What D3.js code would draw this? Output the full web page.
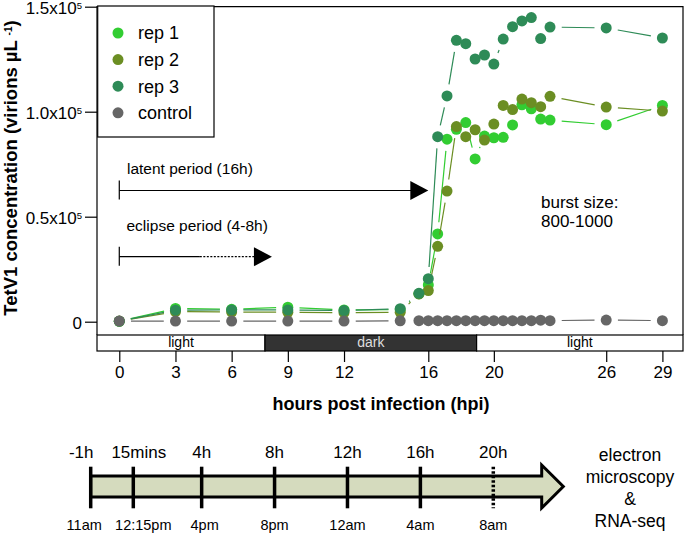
<!DOCTYPE html>
<html><head><meta charset="utf-8">
<script src="https://cdn.jsdelivr.net/npm/d3@7"></script>
<style>
body{margin:0;background:#fff}
svg{display:block}
text{font-family:"Liberation Sans",Arial,Helvetica,sans-serif}
</style>
</head><body><svg id="c" width="685" height="533"></svg>
<script>
// ---------------- data ----------------
const hours = [0,3,6,9,12,15,16,16.5,17,17.5,18,18.5,19,19.5,20,20.5,21,21.5,22,22.5,23,26,29];
const rep1 = [200,6300,5900,6900,5600,5700,13300,17500,41800,86900,91600,94800,77500,88400,87600,87800,93700,103300,101400,96500,96000,93800,103000];
const rep2 = [300,4800,4600,4500,4300,4500,13200,14800,35900,62200,92900,88100,91400,86500,94100,103000,101000,106000,104300,102400,107300,102200,100300];
const rep3 = [250,5500,5600,5600,5300,6200,13500,20500,88100,107500,134000,132400,125100,127000,122700,134600,140500,143200,144800,134800,140300,139900,135100];
const control = [300,300,300,300,300,400,500,500,500,500,500,500,500,500,500,500,500,500,500,700,500,800,500];
const seriesNames = ["rep 1","rep 2","rep 3","control"];
const seriesValues = [rep1, rep2, rep3, control];
const seriesColors = ["#32CD32","#6B8E23","#2E8B57","#666666"];

const yTickValues = [0,50000,100000,150000];
const xTickHours = [0,3,6,9,12,16.5,20,26,29];
const xTickLabels = ["0","3","6","9","12","16","20","26","29"];
const periodLabels = ["light","dark","light"];
const periodBounds = [-1.19,7.78,19.08,30.1];

const timelineHours = [-1,0.25,4,8,12,16,20];
const timelineLabels = ["-1h","15mins","4h","8h","12h","16h","20h"];
const clockLabels = ["11am","12:15pm","4pm","8pm","12am","4am","8am"];
const endLabels = ["electron","microscopy","&","RNA-seq"];

// ---------------- layout ----------------
const svg = d3.select("#c");
const L = 97, R = 683, T = 6.7, B = 335, barB = 351;
const x = d3.scaleLinear().domain([periodBounds[0], periodBounds[periodBounds.length-1]]).range([L, R]);
const y = d3.scaleLinear().domain([0,150000]).range([321.7, T]);

// frame
svg.append("path").attr("d",`M${L},${B}V${T}H${R}V${B}`).attr("fill","none").attr("stroke","#000").attr("stroke-width",1.2);

// light / dark bar
const periods = periodLabels.map((l,i)=>({label:l,start:periodBounds[i],end:periodBounds[i+1]}));
const pg = svg.append("g");
pg.selectAll("rect").data(periods).join("rect")
  .attr("x",d=>x(d.start)).attr("y",B).attr("width",d=>x(d.end)-x(d.start)).attr("height",barB-B)
  .attr("fill",d=>d.label==="dark"?"#333333":"#ffffff").attr("stroke","#000").attr("stroke-width",1.2);
pg.selectAll("text").data(periods).join("text")
  .attr("x",d=>(x(d.start)+x(d.end))/2).attr("y",346.5).attr("text-anchor","middle")
  .attr("font-size",14).attr("fill",d=>d.label==="dark"?"#dddddd":"#000").text(d=>d.label);

// x axis
const xa = svg.append("g").attr("transform",`translate(0,${barB})`)
  .call(d3.axisBottom(x).tickValues(xTickHours).tickFormat((d,i)=>xTickLabels[i]).tickSize(11).tickPadding(4));
xa.select(".domain").remove();
xa.selectAll("line").attr("stroke","#000").attr("stroke-width",1.2);
xa.selectAll("text").attr("font-size",17).attr("fill","#000").style("font-family",'"Liberation Sans",Arial,sans-serif');

// y axis
const ya = svg.append("g").attr("transform",`translate(${L},0)`)
  .call(d3.axisLeft(y).tickValues(yTickValues).tickSize(12).tickPadding(3));
ya.select(".domain").remove();
ya.selectAll("line").attr("stroke","#000").attr("stroke-width",1.2);
ya.selectAll("text").attr("font-size",17).attr("fill","#000").attr("dy","0.38em")
  .style("font-family",'"Liberation Sans",Arial,sans-serif')
  .each(function(d){
    const t = d3.select(this); t.text("");
    if(d===0){ t.text("0"); return; }
    t.append("tspan").text((d/1e5).toFixed(1)+"x10");
    t.append("tspan").attr("font-size",9.5).attr("dy",-4.5).text("5");
  });

// axis titles
svg.append("text").attr("x",381).attr("y",410).attr("text-anchor","middle")
  .attr("font-size",18).attr("font-weight","bold").text("hours post infection (hpi)");
const yt = svg.append("text").attr("transform","translate(17,168) rotate(-90)").attr("text-anchor","middle")
  .attr("font-size",18.5).attr("font-weight","bold");
yt.append("tspan").text("TetV1 concentration (virions µL ");
yt.append("tspan").attr("font-size",10).attr("dy",-5).text("-1");
yt.append("tspan").attr("dy",5).text(")");

// series (type "b": points with gapped segments)
const gap = 11.7, rad = 5.5;
seriesValues.forEach((vals,si)=>{
  const pts = hours.map((h,i)=>[x(h), y(vals[i])]);
  const g = svg.append("g");
  const segs = [];
  for(let i=0;i<pts.length-1;i++){
    const [x1,y1]=pts[i],[x2,y2]=pts[i+1];
    const dx=x2-x1, dy=y2-y1, d=Math.hypot(dx,dy);
    if(d>2*gap){ const ux=dx/d, uy=dy/d; segs.push([x1+ux*gap,y1+uy*gap,x2-ux*gap,y2-uy*gap]); }
  }
  g.selectAll("line").data(segs).join("line")
    .attr("x1",s=>s[0]).attr("y1",s=>s[1]).attr("x2",s=>s[2]).attr("y2",s=>s[3])
    .attr("stroke",seriesColors[si]).attr("stroke-width",1.2);
  g.selectAll("circle").data(pts).join("circle")
    .attr("cx",p=>p[0]).attr("cy",p=>p[1]).attr("r",rad).attr("fill",seriesColors[si]);
});

// legend
const lg = svg.append("g");
lg.append("rect").attr("x",97.7).attr("y",6).attr("width",116.3).attr("height",131)
  .attr("fill","#fff").attr("stroke","#000").attr("stroke-width",1.2);
seriesNames.forEach((n,i)=>{
  const cy = 33 + i*26.6;
  lg.append("circle").attr("cx",118).attr("cy",cy).attr("r",rad).attr("fill",seriesColors[i]);
  lg.append("text").attr("x",138).attr("y",cy+6.3).attr("font-size",18).text(n);
});

// annotations
const ann = svg.append("g");
ann.append("text").attr("x",127).attr("y",174).attr("font-size",15.5).text("latent period (16h)");
ann.append("text").attr("x",126.5).attr("y",231).attr("font-size",15.5).text("eclipse period (4-8h)");
function arrowHead(tipX, cy){
  ann.append("path").attr("d",`M${tipX},${cy}L${tipX-18},${cy-9.5}V${cy+9.5}Z`).attr("fill","#000");
}
const ly = 190.5;
ann.append("line").attr("x1",x(0)).attr("x2",x(0)).attr("y1",ly-10).attr("y2",ly+9).attr("stroke","#000").attr("stroke-width",1.2);
ann.append("line").attr("x1",x(0)).attr("x2",x(16.5)-17).attr("y1",ly).attr("y2",ly).attr("stroke","#000").attr("stroke-width",1.2);
arrowHead(x(16.5), ly);
const ey = 256.7;
ann.append("line").attr("x1",x(0)).attr("x2",x(0)).attr("y1",ey-10).attr("y2",ey+9).attr("stroke","#000").attr("stroke-width",1.2);
ann.append("line").attr("x1",x(0)).attr("x2",x(4.3)).attr("y1",ey).attr("y2",ey).attr("stroke","#000").attr("stroke-width",1.2);
ann.append("line").attr("x1",x(4.3)).attr("x2",x(8.15)-17).attr("y1",ey).attr("y2",ey).attr("stroke","#000").attr("stroke-width",1.2).attr("stroke-dasharray","2,1.5");
arrowHead(x(8.15), ey);
ann.append("text").attr("x",541).attr("y",207.5).attr("font-size",17).text("burst size:");
ann.append("text").attr("x",541).attr("y",227).attr("font-size",17).text("800-1000");

// ---------------- timeline ----------------
const tl = d3.scaleLinear().domain([-1,0.25,20]).range([90.7,133.3,493.3]);
const topDx = [-9.5,5.5,0,0,0,0,0];
const botDx = [-6.5,10,3,0,0,0,0];
const tg = svg.append("g");
const bx0 = tl(-1), bTop = 476, bBot = 497, hx = 541.7, tipX = 563.3;
tg.append("path")
  .attr("d",`M${bx0},${bTop}H${hx}V465L${tipX},486.5L${hx},508V${bBot}H${bx0}Z`)
  .attr("fill","#d5dbbe").attr("stroke","#000").attr("stroke-width",3).attr("stroke-linejoin","miter");
timelineHours.forEach((h,i)=>{
  const last = i===timelineHours.length-1;
  tg.append("line").attr("x1",tl(h)).attr("x2",tl(h)).attr("y1",466.7).attr("y2",508.3)
    .attr("stroke","#000").attr("stroke-width",3.5).attr("stroke-dasharray",last?"2.5,2":null);
  tg.append("text").attr("x",tl(h)+topDx[i]).attr("y",457.5).attr("text-anchor","middle").attr("font-size",17).text(timelineLabels[i]);
  tg.append("text").attr("x",tl(h)+botDx[i]).attr("y",530).attr("text-anchor","middle").attr("font-size",14.5).text(clockLabels[i]);
});
endLabels.forEach((t,i)=>{
  tg.append("text").attr("x",630).attr("y",461+i*22).attr("text-anchor","middle").attr("font-size",17.5).text(t);
});
</script>
</body></html>
